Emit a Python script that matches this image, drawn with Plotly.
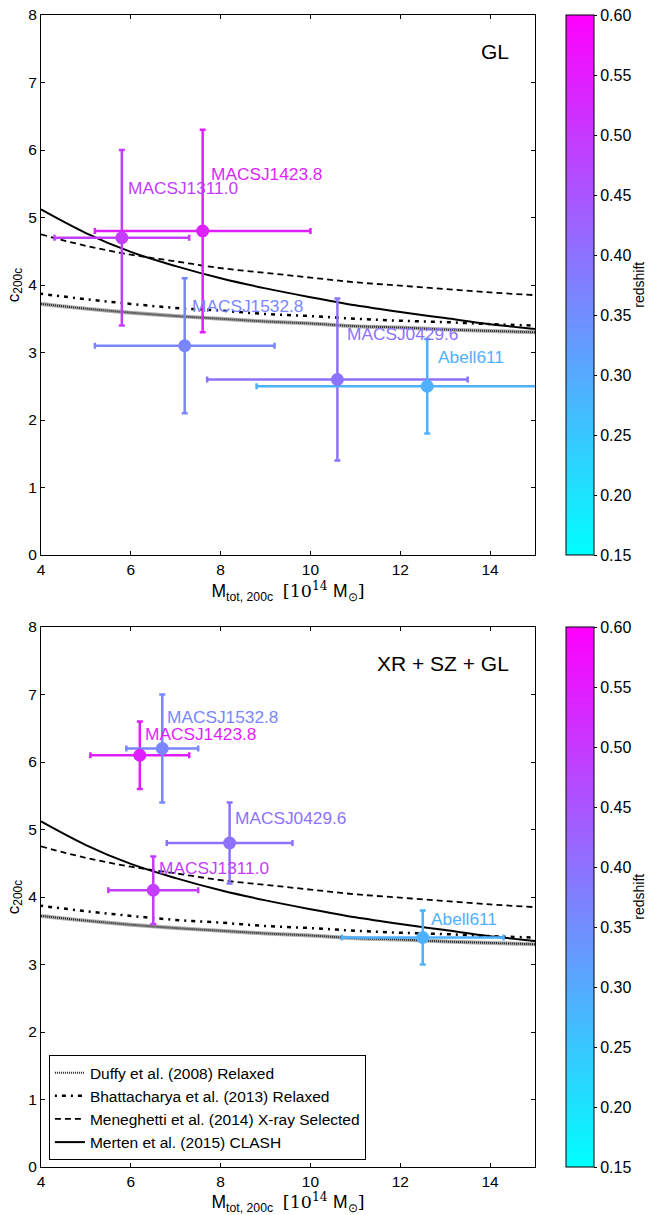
import plotly.graph_objects as go
from plotly.colors import sample_colorscale

# ---------------- data ----------------
clusters = ["MACSJ1311.0", "MACSJ1423.8", "MACSJ1532.8", "MACSJ0429.6", "Abell611"]
redshift = [0.494, 0.545, 0.363, 0.399, 0.288]

# GL panel
gl_mass = [5.8, 7.6, 7.2, 10.6, 12.6]
gl_mass_lo = [4.3, 5.2, 5.2, 7.7, 8.8]
gl_mass_hi = [7.3, 10.0, 9.2, 13.5, 16.5]
gl_c = [4.7, 4.8, 3.1, 2.6, 2.5]
gl_c_lo = [3.4, 3.3, 2.1, 1.4, 1.8]
gl_c_hi = [6.0, 6.3, 4.1, 3.8, 3.2]
gl_label_x = [5.89, 7.74, 7.32, 10.76, 12.80]
gl_label_y = [5.43, 5.64, 3.69, 3.28, 2.93]

# XR + SZ + GL panel
all_mass = [6.5, 6.2, 6.7, 8.2, 12.5]
all_mass_lo = [5.5, 5.1, 5.9, 6.8, 10.7]
all_mass_hi = [7.5, 7.3, 7.5, 9.6, 14.3]
all_c = [4.1, 6.1, 6.2, 4.8, 3.4]
all_c_lo = [3.6, 5.6, 5.4, 4.2, 3.0]
all_c_hi = [4.6, 6.6, 7.0, 5.4, 3.8]
all_label_x = [6.58, 6.28, 6.76, 8.28, 12.63]
all_label_y = [4.43, 6.42, 6.67, 5.17, 3.67]

# c-M relations
rel_mass = [4, 5, 6, 7, 8, 9, 10, 11, 12, 13, 14, 15]
duffy = [3.72, 3.65, 3.59, 3.54, 3.50, 3.46, 3.43, 3.39, 3.37, 3.34, 3.32, 3.30]
bhatt = [3.87, 3.79, 3.72, 3.66, 3.62, 3.57, 3.54, 3.50, 3.47, 3.45, 3.42, 3.40]
menegh = [4.75, 4.58, 4.45, 4.35, 4.25, 4.18, 4.11, 4.04, 3.99, 3.94, 3.89, 3.85]
merten = [5.12, 4.77, 4.49, 4.28, 4.10, 3.95, 3.82, 3.70, 3.60, 3.51, 3.42, 3.35]

rel_names = ["Duffy et al. (2008) Relaxed", "Bhattacharya et al. (2013) Relaxed",
             "Meneghetti et al. (2014) X-ray Selected", "Merten et al. (2015) CLASH"]

z_min, z_max = 0.15, 0.60
cbar_ticks = [0.15, 0.20, 0.25, 0.30, 0.35, 0.40, 0.45, 0.50, 0.55, 0.60]
panel_titles = ["GL", "XR + SZ + GL"]

# ---------------- figure ----------------
FONT = "Liberation Sans, Arial, Helvetica, sans-serif"
cscale = [[0, "#00ffff"], [1, "#ff00ff"]]
colors = sample_colorscale(cscale, [(z - z_min) / (z_max - z_min) for z in redshift])

fig = go.Figure()

panels = [
    dict(xa="x", ya="y", m=gl_mass, mlo=gl_mass_lo, mhi=gl_mass_hi, c=gl_c, clo=gl_c_lo,
         chi=gl_c_hi, lx=gl_label_x, ly=gl_label_y, cb_y=0.765625),
    dict(xa="x2", ya="y2", m=all_mass, mlo=all_mass_lo, mhi=all_mass_hi, c=all_c, clo=all_c_lo,
         chi=all_c_hi, lx=all_label_x, ly=all_label_y, cb_y=0.234375),
]

for pi, p in enumerate(panels):
    showleg = pi == 1
    fig.add_trace(go.Scatter(x=rel_mass, y=duffy, mode="lines", line=dict(color="#b0b0b0", width=4, shape="spline"),
                             xaxis=p["xa"], yaxis=p["ya"], showlegend=False, hoverinfo="skip"))
    fig.add_trace(go.Scatter(x=rel_mass, y=duffy, mode="lines", name=rel_names[0],
                             line=dict(color="#222222", width=2, dash="1px,1px", shape="spline"),
                             xaxis=p["xa"], yaxis=p["ya"], showlegend=showleg))
    fig.add_trace(go.Scatter(x=rel_mass, y=bhatt, mode="lines", name=rel_names[1],
                             line=dict(color="black", width=2.5, dash="2px,5px,4px,5px", shape="spline"),
                             xaxis=p["xa"], yaxis=p["ya"], showlegend=showleg))
    fig.add_trace(go.Scatter(x=rel_mass, y=menegh, mode="lines", name=rel_names[2],
                             line=dict(color="black", width=1.8, dash="6px,4px", shape="spline"),
                             xaxis=p["xa"], yaxis=p["ya"], showlegend=showleg))
    fig.add_trace(go.Scatter(x=rel_mass, y=merten, mode="lines", name=rel_names[3],
                             line=dict(color="black", width=2, shape="spline"),
                             xaxis=p["xa"], yaxis=p["ya"], showlegend=showleg))
    for i in range(len(clusters)):
        fig.add_trace(go.Scatter(
            x=[p["m"][i]], y=[p["c"][i]], mode="markers",
            marker=dict(size=1, color=colors[i], opacity=0),
            error_x=dict(type="data", symmetric=False, array=[p["mhi"][i] - p["m"][i]],
                         arrayminus=[p["m"][i] - p["mlo"][i]], color=colors[i], thickness=2.5, width=3),
            error_y=dict(type="data", symmetric=False, array=[p["chi"][i] - p["c"][i]],
                         arrayminus=[p["c"][i] - p["clo"][i]], color=colors[i], thickness=2.5, width=3),
            xaxis=p["xa"], yaxis=p["ya"], showlegend=False, hoverinfo="skip"))
    fig.add_trace(go.Scatter(
        x=p["m"], y=p["c"], mode="markers", text=clusters,
        marker=dict(size=13, color=redshift, colorscale=cscale, cmin=z_min, cmax=z_max, showscale=True,
                    line=dict(width=0),
                    colorbar=dict(x=1.0628, xanchor="left", xref="paper", y=p["cb_y"], yanchor="middle",
                                  len=0.46875, lenmode="fraction", thickness=28, outlinecolor="black",
                                  outlinewidth=1, xpad=0, ypad=0, tickvals=cbar_ticks, tickformat=".2f",
                                  ticks="outside", ticklen=3, tickcolor="black",
                                  tickfont=dict(size=16, family=FONT, color="black"))),
        xaxis=p["xa"], yaxis=p["ya"], showlegend=False))
    for i in range(len(clusters)):
        fig.add_annotation(x=p["lx"][i], y=p["ly"][i], xref=p["xa"], yref=p["ya"], text=clusters[i],
                           showarrow=False, xanchor="left", yanchor="middle",
                           font=dict(size=17.3, family=FONT, color=colors[i]))
    fig.add_annotation(x=0.951, y=0.932, xref=p["xa"] + " domain", yref=p["ya"] + " domain",
                       text=panel_titles[pi], showarrow=False, xanchor="right", yanchor="middle",
                       font=dict(size=21, family=FONT, color="black"))
    # colorbar title
    fig.add_annotation(x=1.21, y=0.5, xref="paper", yref=p["ya"] + " domain", text="redshift",
                       showarrow=False, textangle=-90, xanchor="center", yanchor="middle",
                       font=dict(size=14, family=FONT, color="black"))

SERIF = "font-family:'DejaVu Serif', 'Liberation Serif', serif"
xtitle = (f"M<sub>tot, 200c</sub>  <span style=\"{SERIF}\">[10<sup>14</sup> </span>"
          f"M<sub>⊙</sub><span style=\"{SERIF}\">]</span>")

axis_common = dict(showline=True, linecolor="black", linewidth=1, mirror="ticks", ticks="inside",
                   ticklen=4, tickcolor="black", showgrid=False, zeroline=False,
                   tickfont=dict(size=15.5, family=FONT, color="black"))

fig.update_layout(
    width=649, height=1215,
    margin=dict(l=41, r=114, t=15, b=48, autoexpand=False),
    paper_bgcolor="white", plot_bgcolor="white",
    font=dict(family=FONT, color="black"),
    xaxis=dict(domain=[0, 1], range=[4, 15], tick0=4, dtick=2, anchor="y",
               title=dict(text=xtitle, font=dict(size=17.5, family=FONT), standoff=8), **axis_common),
    yaxis=dict(domain=[0.53125, 1], range=[0, 8], dtick=1, anchor="x",
               title=dict(text="c<sub>200c</sub>", font=dict(size=17, family=FONT), standoff=4), **axis_common),
    xaxis2=dict(domain=[0, 1], range=[4, 15], tick0=4, dtick=2, anchor="y2",
                title=dict(text=xtitle, font=dict(size=17.5, family=FONT), standoff=8), **axis_common),
    yaxis2=dict(domain=[0, 0.46875], range=[0, 8], dtick=1, anchor="x2",
                title=dict(text="c<sub>200c</sub>", font=dict(size=17, family=FONT), standoff=4), **axis_common),
    legend=dict(x=0.016, y=0.006, xanchor="left", yanchor="bottom", bgcolor="white",
                bordercolor="black", borderwidth=1, font=dict(size=15.5, family=FONT, color="black"),
                tracegroupgap=0, itemwidth=30),
    showlegend=True,
)

fig.write_html("out.html")
